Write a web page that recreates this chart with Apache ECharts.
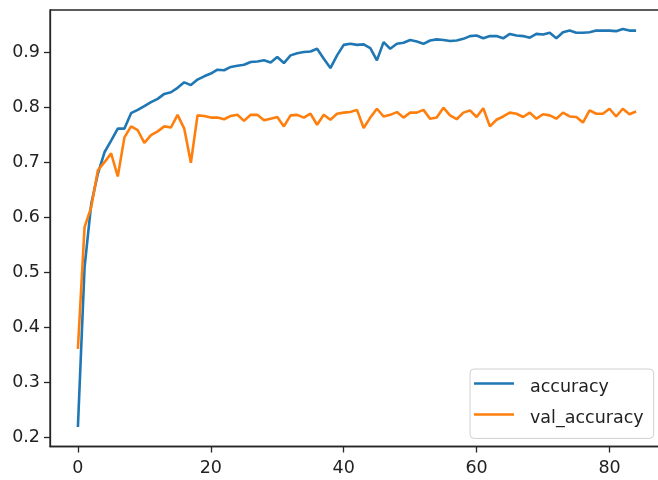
<!DOCTYPE html>
<html>
<head>
<meta charset="utf-8">
<script src="https://cdn.jsdelivr.net/npm/echarts@6/dist/echarts.min.js"></script>
<style>
html,body{margin:0;padding:0;background:#fff;overflow:hidden;width:658px;height:480px;}
#chart{width:664px;height:480px;}
</style>
</head>
<body>
<div id="chart"></div>
<script>
const seriesNames = ['accuracy', 'val_accuracy'];
const accuracy = [
  0.219, 0.509, 0.624, 0.679, 0.718, 0.739, 0.761, 0.761, 0.789, 0.795,
  0.802, 0.809, 0.815, 0.824, 0.827, 0.835, 0.845, 0.840, 0.850, 0.856,
  0.861, 0.868, 0.867, 0.873, 0.875, 0.877, 0.882, 0.883, 0.885, 0.881,
  0.891, 0.880, 0.894, 0.898, 0.900, 0.901, 0.906, 0.888, 0.871, 0.894,
  0.913, 0.915, 0.913, 0.914, 0.907, 0.885, 0.918, 0.906, 0.915, 0.917,
  0.922, 0.919, 0.915, 0.921, 0.923, 0.922, 0.920, 0.921, 0.924, 0.929,
  0.930, 0.925, 0.929, 0.929, 0.925, 0.933, 0.930, 0.929, 0.926, 0.933,
  0.932, 0.935, 0.925, 0.936, 0.939, 0.935, 0.935, 0.936, 0.939, 0.939,
  0.939, 0.938, 0.942, 0.939, 0.939
];
const valAccuracy = [
  0.361, 0.582, 0.618, 0.685, 0.700, 0.716, 0.674, 0.745, 0.765, 0.758,
  0.735, 0.749, 0.756, 0.765, 0.763, 0.786, 0.761, 0.699, 0.785, 0.784,
  0.781, 0.781, 0.778, 0.784, 0.786, 0.775, 0.786, 0.786, 0.776, 0.779,
  0.782, 0.765, 0.785, 0.786, 0.781, 0.788, 0.768, 0.786, 0.777, 0.788,
  0.790, 0.791, 0.795, 0.762, 0.781, 0.797, 0.783, 0.786, 0.791, 0.781,
  0.790, 0.790, 0.795, 0.779, 0.781, 0.799, 0.785, 0.778, 0.790, 0.794,
  0.782, 0.798, 0.765, 0.777, 0.783, 0.790, 0.788, 0.782, 0.790, 0.779,
  0.787, 0.785, 0.779, 0.790, 0.783, 0.782, 0.772, 0.794, 0.788, 0.788,
  0.797, 0.783, 0.797, 0.787, 0.792
];
const epochs = accuracy.map((_, i) => i);
const xTicks = [0, 20, 40, 60, 80];
const yTicks = [0.2, 0.3, 0.4, 0.5, 0.6, 0.7, 0.8, 0.9];

const FONT = 'DejaVu Sans';
const FS = 17.5;
const AXIS_COLOR = '#262626';

const chart = echarts.init(document.getElementById('chart'), null, {renderer: 'canvas'});
const option = {
  animation: false,
  backgroundColor: '#ffffff',
  grid: {
    left: 50, right: 0, top: 10, bottom: 33.5,
    show: true, borderColor: AXIS_COLOR, borderWidth: 1.3, backgroundColor: 'transparent'
  },
  xAxis: {
    type: 'value', min: -4.2, max: 88.2,
    splitLine: {show: false},
    axisLine: {show: true, onZero: false, lineStyle: {color: AXIS_COLOR, width: 1.3}},
    axisTick: {show: true, inside: false, length: 6, lineStyle: {color: AXIS_COLOR, width: 1.3}, customValues: xTicks},
    axisLabel: {customValues: xTicks, color: '#222', fontFamily: FONT, fontSize: FS, margin: 13,
      formatter: v => String(v)}
  },
  yAxis: {
    type: 'value', min: 0.1836, max: 0.9764,
    splitLine: {show: false},
    axisLine: {show: true, onZero: false, lineStyle: {color: AXIS_COLOR, width: 1.3}},
    axisTick: {show: true, inside: false, length: 6, lineStyle: {color: AXIS_COLOR, width: 1.3}, customValues: yTicks},
    axisLabel: {customValues: yTicks, color: '#222', fontFamily: FONT, fontSize: FS, margin: 10,
      formatter: v => v.toFixed(1)}
  },
  legend: {
    orient: 'vertical',
    left: 470, top: 369,
    backgroundColor: '#ffffff',
    borderColor: '#d0d0d0', borderWidth: 1, borderRadius: 4,
    padding: [9.8, 10, 10.6, 4],
    itemWidth: 40, itemHeight: 14, itemGap: 13,
    icon: 'path://M0,0 L40,0 L40,0.01 L0,0.01 Z M0,1.4 L40,1.4 L40,4 L0,4 Z M0,13.99 L40,13.99 L40,14 L0,14 Z',
    textStyle: {fontFamily: FONT, fontSize: FS, color: '#222', lineHeight: 17, padding: [0, 0, 0, 11]},
    data: seriesNames.map(n => ({name: n}))
  },
  series: [
    {
      name: seriesNames[0], type: 'line', showSymbol: false, symbol: 'none',
      data: epochs.map((e, i) => [e, accuracy[i]]),
      lineStyle: {color: '#1f77b4', width: 2.6}, itemStyle: {color: '#1f77b4'}
    },
    {
      name: seriesNames[1], type: 'line', showSymbol: false, symbol: 'none',
      data: epochs.map((e, i) => [e, valAccuracy[i]]),
      lineStyle: {color: '#ff7f0e', width: 2.6}, itemStyle: {color: '#ff7f0e'}
    }
  ]
};
chart.setOption(option);
</script>
</body>
</html>
